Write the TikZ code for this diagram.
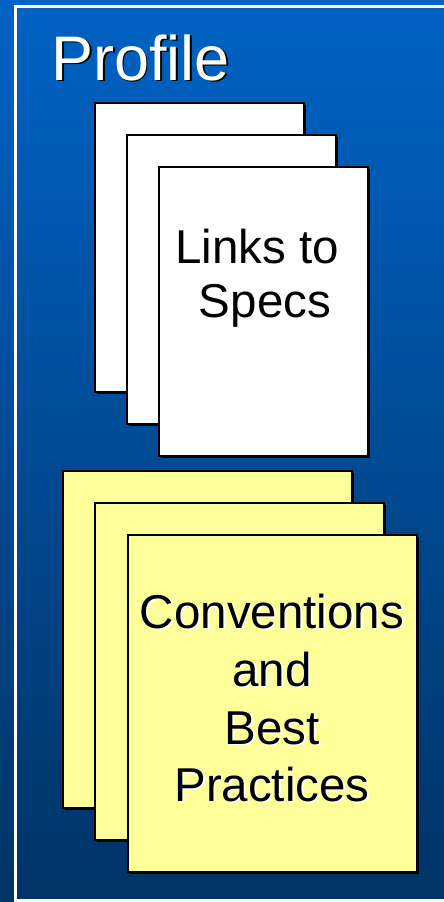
\documentclass[tikz,border=0pt]{standalone}
\usepackage{fontspec}
\setmainfont{Liberation Sans}
\definecolor{bgtop}{HTML}{0062C4}
\definecolor{bgbot}{HTML}{003366}
\definecolor{paleyellow}{HTML}{FFFF99}
\tikzset{
  page/.style={draw=black, line width=2pt, inner sep=0pt, outer sep=0pt, anchor=north west,
    preaction={fill=black, transform canvas={shift={(1.8pt,-1.8pt)}}}},
  whitepage/.style={page, fill=white, minimum width=209pt, minimum height=289pt},
  yellowpage/.style={page, fill=paleyellow, minimum width=289pt, minimum height=337pt},
  bodytext/.style={font=\fontsize{47.5}{57}\selectfont, inner sep=0pt, anchor=base, text=black},
  titletext/.style={font=\fontsize{63}{70}\selectfont, inner sep=0pt, anchor=base west, text=white},
}
% text with an offset shadow of colour #1, inside one node
\newcommand\shd[2]{\leavevmode\rlap{\hspace{1.8pt}\raisebox{-1.8pt}{\color{#1}#2}}#2}
\begin{document}
\begin{tikzpicture}[x=1pt,y=-1pt]
\useasboundingbox (0,0) rectangle (444,902);
\fill[top color=bgtop, bottom color=bgbot] (0,0) rectangle (444,902);
\begin{scope}
\clip (0,0) rectangle (444,902);
\draw[white, line width=2.5pt] (15.5,6.5) rectangle (480,900.5);
\end{scope}
% title
\node[titletext] (title) at (51,80) {\shd{black}{Profile}};
% white pages
\node[whitepage] (w1) at (95,103) {};
\node[whitepage] (w2) at (127,135) {};
\node[whitepage] (w3) at (159,167) {};
\node[bodytext] (links1) at (257,263) {\shd{white}{Links to}};
\node[bodytext] (links2) at (265,317) {\shd{white}{Specs}};
% yellow pages
\node[yellowpage] (y1) at (63,471) {};
\node[yellowpage] (y2) at (95,503) {};
\node[yellowpage] (y3) at (128,535) {};
\node[bodytext] (conv1) at (272,628) {\shd{white}{Conventions}};
\node[bodytext] (conv2) at (272,686) {\shd{white}{and}};
\node[bodytext] (conv3) at (272,744) {\shd{white}{Best}};
\node[bodytext] (conv4) at (272,801) {\shd{white}{Practices}};
\end{tikzpicture}
\end{document}
